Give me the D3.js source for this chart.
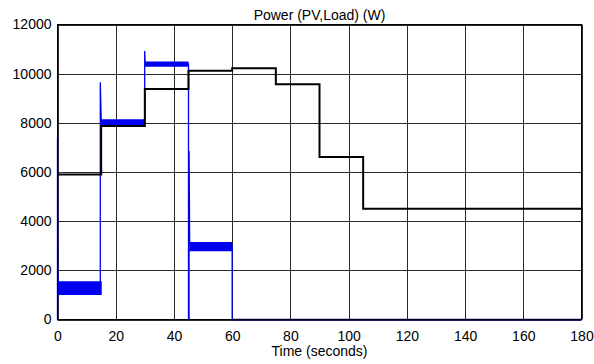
<!DOCTYPE html>
<html>
<head>
<meta charset="utf-8">
<script src="https://cdn.jsdelivr.net/npm/d3@7"></script>
<style>
  body { margin: 0; background: #fff; }
  svg text { font-family: "Liberation Sans", Arial, sans-serif; fill: #000; }
</style>
</head>
<body>
<svg id="chart" width="594" height="364"></svg>
<script>
// ---- data ----
var xTicks = [0, 20, 40, 60, 80, 100, 120, 140, 160, 180];
var yTicks = [0, 2000, 4000, 6000, 8000, 10000, 12000];

// load power: step levels (value holds from start until next start)
var loadStart = [0, 15, 30, 45, 60, 75, 90, 105, 180];
var loadValue = [5900, 7870, 9380, 10120, 10220, 9570, 6610, 4510, 4510];

// PV power: trace with switching spikes
var pvTime  = [0, 0, 0.1, 0.15, 0.3, 14.7, 14.7, 15.0, 15.3, 29.95, 29.95, 30.1, 30.3, 45, 45, 45.2, 45.2, 45.4, 60, 60, 180];
var pvValue = [0, 7400, 800, 1750, 1300, 1300, 9650, 8150, 8000, 8000, 10920, 10500, 10400, 10400, 0, 0, 6850, 3100, 3000, 0, 0];

// PV ripple band (min / max envelope per segment)
var bandStart = [0.2, 15.0, 30.0, 45.3];
var bandEnd   = [15.2, 30.0, 45.0, 60.0];
var bandLow   = [1000, 7880, 10280, 2780];
var bandHigh  = [1560, 8150, 10490, 3150];

// ---- layout ----
var svg = d3.select("#chart");
var margin = {left: 57.5, right: 12.5, top: 24.5, bottom: 44.5};
var width = 594, height = 364;

var x = d3.scaleLinear().domain([0, 180]).range([margin.left, width - margin.right]);
var y = d3.scaleLinear().domain([0, 12000]).range([height - margin.bottom, margin.top]);

// grid
var grid = svg.append("g").attr("class", "grid");
grid.selectAll("line.vx")
  .data(xTicks)
  .enter().append("line")
    .attr("x1", function(d) { return Math.round(x(d)) + 0.5; })
    .attr("x2", function(d) { return Math.round(x(d)) + 0.5; })
    .attr("y1", y(12000)).attr("y2", y(0))
    .attr("stroke", "#2a2a2a").attr("stroke-width", 1);
grid.selectAll("line.hy")
  .data(yTicks)
  .enter().append("line")
    .attr("y1", function(d) { return Math.round(y(d)) + 0.5; })
    .attr("y2", function(d) { return Math.round(y(d)) + 0.5; })
    .attr("x1", x(0)).attr("x2", x(180))
    .attr("stroke", "#2a2a2a").attr("stroke-width", 1);

// PV ripple band
var bands = bandStart.map(function(s, i) {
  return [{t: s, lo: bandLow[i], hi: bandHigh[i]}, {t: bandEnd[i], lo: bandLow[i], hi: bandHigh[i]}];
});
var area = d3.area()
  .x(function(d) { return x(d.t); })
  .y0(function(d) { return y(d.lo); })
  .y1(function(d) { return y(d.hi); });
svg.append("g").selectAll("path")
  .data(bands)
  .enter().append("path")
    .attr("d", area)
    .attr("fill", "#0000f0");

// PV line
var pvLine = d3.line()
  .x(function(d, i) { return x(pvTime[i]); })
  .y(function(d) { return y(d); });
svg.append("path")
  .datum(pvValue)
  .attr("d", pvLine)
  .attr("fill", "none")
  .attr("stroke", "#0000f0")
  .attr("stroke-width", 1.3);

// load line
var loadLine = d3.line()
  .curve(d3.curveStepAfter)
  .x(function(d, i) { return x(loadStart[i]); })
  .y(function(d) { return y(d); });
svg.append("path")
  .datum(loadValue)
  .attr("d", loadLine)
  .attr("fill", "none")
  .attr("stroke", "#000")
  .attr("stroke-width", 2);

// axes box
svg.append("rect")
  .attr("x", x(0)).attr("y", y(12000))
  .attr("width", x(180) - x(0)).attr("height", y(0) - y(12000))
  .attr("fill", "none").attr("stroke", "#000").attr("stroke-width", 1);

// tick labels
var xAxis = d3.axisBottom(x).tickValues(xTicks).tickFormat(d3.format("d")).tickSize(0).tickPadding(12);
svg.append("g")
  .attr("transform", "translate(0," + y(0) + ")")
  .call(xAxis)
  .call(function(g) { g.select(".domain").remove(); })
  .selectAll("text")
    .style("font-size", "14px");

var yAxis = d3.axisLeft(y).tickValues(yTicks).tickFormat(d3.format("d")).tickSize(0).tickPadding(6);
svg.append("g")
  .attr("transform", "translate(" + x(0) + ",0)")
  .call(yAxis)
  .call(function(g) { g.select(".domain").remove(); })
  .selectAll("text")
    .style("font-size", "14px");

// title and axis label
svg.append("text")
  .attr("x", (x(0) + x(180)) / 2).attr("y", 20)
  .attr("text-anchor", "middle")
  .style("font-size", "14px")
  .text("Power (PV,Load) (W)");

svg.append("text")
  .attr("x", (x(0) + x(180)) / 2).attr("y", 356)
  .attr("text-anchor", "middle")
  .style("font-size", "14px")
  .text("Time (seconds)");
</script>
</body>
</html>
